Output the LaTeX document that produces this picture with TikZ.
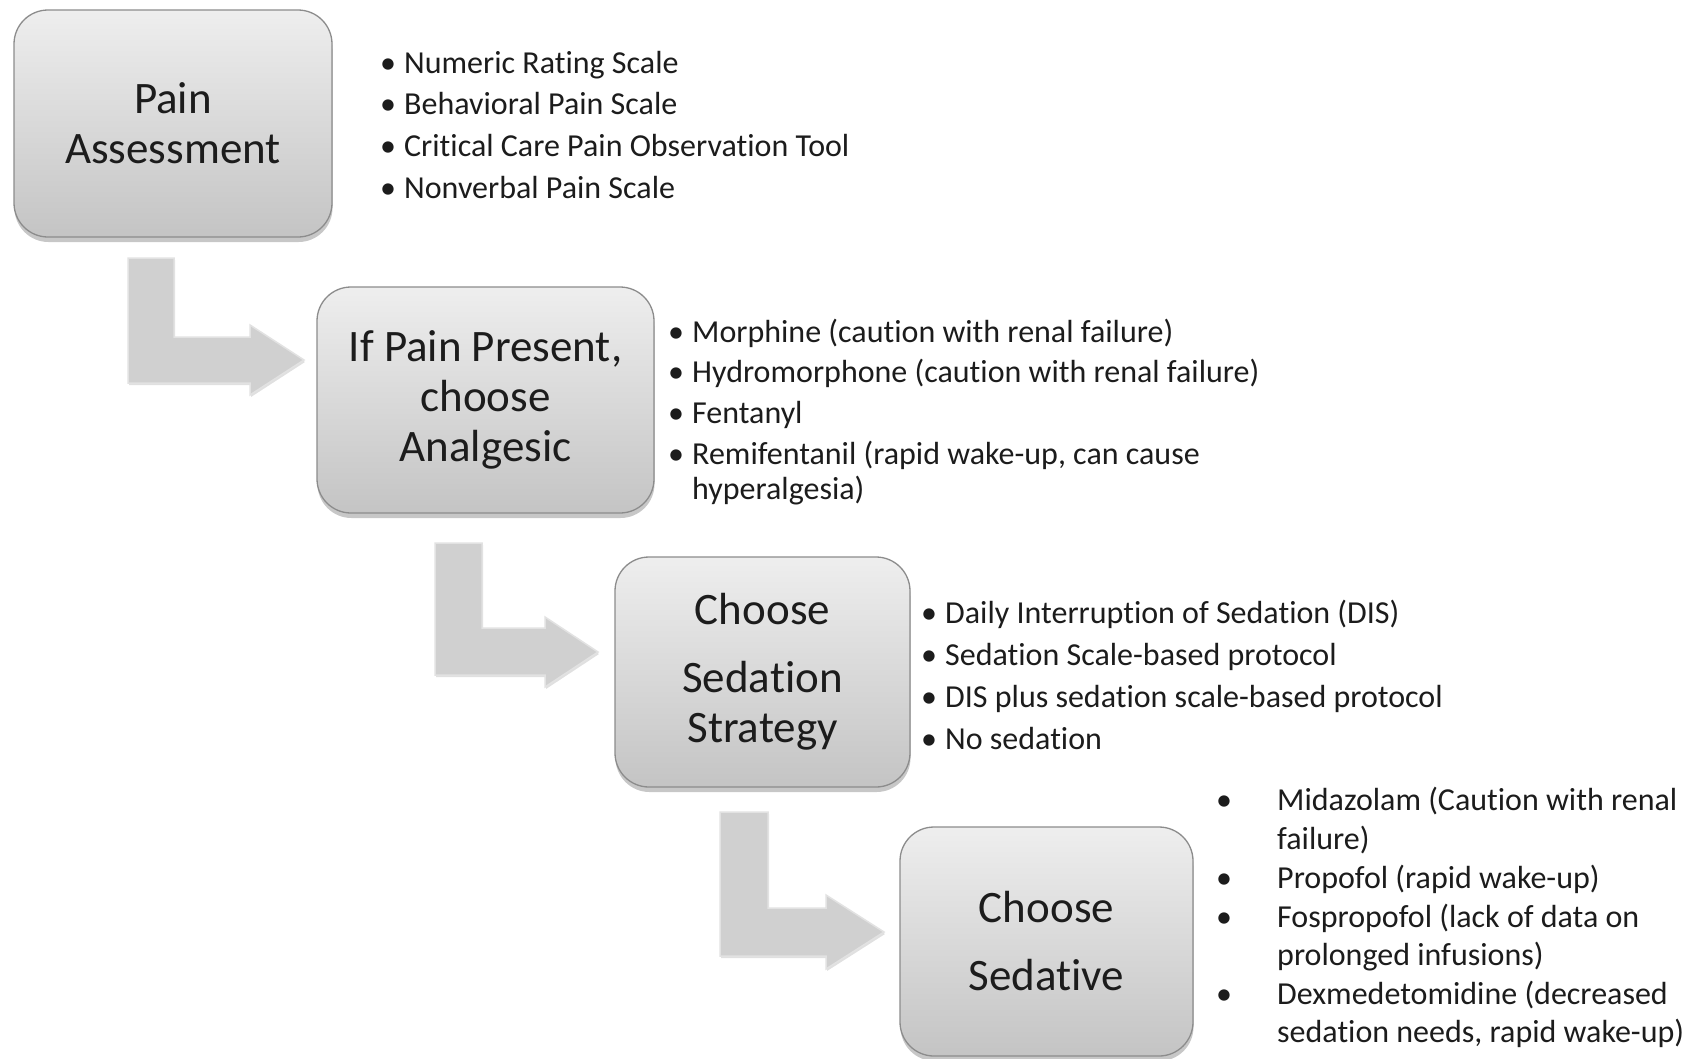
\documentclass[tikz,border=0pt]{standalone}
\usepackage{fontspec}
\setmainfont{Carlito}[RawFeature={-liga;-clig;-calt;-dlig}]
\usetikzlibrary{shadows}
\definecolor{boxtop}{RGB}{238,238,238}
\definecolor{boxbot}{RGB}{196,196,196}
\definecolor{boxline}{RGB}{140,140,140}
\definecolor{txt}{RGB}{28,28,28}
\definecolor{arrowfill}{RGB}{208,208,208}
\definecolor{arrowedge}{RGB}{226,226,226}
\tikzset{
  stepbox/.style={draw=boxline, line width=1.3pt, rounded corners=34pt,
    top color=boxtop, bottom color=boxbot, inner sep=0pt, align=center,
    text=txt, font=\fontsize{45}{50}\selectfont,
    drop shadow={shadow xshift=0.5pt, shadow yshift=-5pt, opacity=0.22, fill=black}},
  listtxt/.style={anchor=base west, inner sep=0pt, text=txt, font=\fontsize{32}{38}\selectfont},
  blockarrow/.style={fill=arrowfill, draw=arrowedge, line width=1.5pt,
    drop shadow={shadow xshift=1pt, shadow yshift=-2pt, opacity=0.12, fill=black}}
}
\newcommand{\bul}{\makebox[24pt][l]{•}}
\newcommand{\tiX}{t\kern0pt i}
\begin{document}
\begin{tikzpicture}[x=1pt,y=-1pt]
\useasboundingbox (0,0) rectangle (1702,1058);
\fill[white] (0,0) rectangle (1702,1058);

% block arrows
\path[blockarrow] (128,258) -- (174,258) -- (174,337) -- (250,337) -- (250,325) -- (304,360) -- (250,395) -- (250,383) -- (128,383) -- cycle;
\path[blockarrow] (435,543) -- (482,543) -- (482,628) -- (545,628) -- (545,617) -- (598,652) -- (545,687) -- (545,675) -- (435,675) -- cycle;
\path[blockarrow] (720,812) -- (768,812) -- (768,908) -- (826,908) -- (826,895) -- (884,932) -- (826,969) -- (826,956) -- (720,956) -- cycle;

% boxes
\node[stepbox, minimum width=318pt, minimum height=227pt] (b1) at (173,123.5) {Pain\\Assessment};
\node[stepbox, minimum width=337pt, minimum height=226pt] (b2) at (485.5,400) {If Pain Present,\\choose\\Analgesic};
\node[stepbox, minimum width=295pt, minimum height=230pt] (b3) at (762.5,672) {Choose\\[18pt]Seda\tiX on\\Strategy};
\node[stepbox, minimum width=293pt, minimum height=229pt] (b4) at (1046.5,941.5) {Choose\\[18pt]Sedative};

% list 1
\node[listtxt] (l1a) at (380,73) {\bul Numeric Rating Scale};
\node[listtxt] (l1b) at (380,114) {\bul Behavioral Pain Scale};
\node[listtxt] (l1c) at (380,156) {\bul Critical Care Pain Observa\tiX on Tool};
\node[listtxt] (l1d) at (380,198) {\bul Nonverbal Pain Scale};

% list 2
\node[listtxt] (l2a) at (668,342) {\bul Morphine (cau\tiX on with renal failure)};
\node[listtxt] (l2b) at (668,382) {\bul Hydromorphone (cau\tiX on with renal failure)};
\node[listtxt] (l2c) at (668,423) {\bul Fentanyl};
\node[listtxt] (l2d) at (668,464) {\bul Remifentanil (rapid wake-up, can cause};
\node[listtxt] (l2e) at (692,499) {hyperalgesia)};

% list 3
\node[listtxt] (l3a) at (921,623) {\bul Daily Interrup\tiX on of Seda\tiX on (DIS)};
\node[listtxt] (l3b) at (921,665) {\bul Seda\tiX on Scale-based protocol};
\node[listtxt] (l3c) at (921,707) {\bul DIS plus seda\tiX on scale-based protocol};
\node[listtxt] (l3d) at (921,749) {\bul No seda\tiX on};

% list 4
\node[listtxt] (l4a) at (1216,810) {•};
\node[listtxt] (l4at) at (1277,810) {Midazolam (Cau\tiX on with renal};
\node[listtxt] (l4at2) at (1277,849) {failure)};
\node[listtxt] (l4b) at (1216,888) {•};
\node[listtxt] (l4bt) at (1277,888) {Propofol (rapid wake-up)};
\node[listtxt] (l4c) at (1216,927) {•};
\node[listtxt] (l4ct) at (1277,927) {Fospropofol (lack of data on};
\node[listtxt] (l4ct2) at (1277,965) {prolonged infusions)};
\node[listtxt] (l4d) at (1216,1004) {•};
\node[listtxt] (l4dt) at (1277,1004) {Dexmedetomidine (decreased};
\node[listtxt] (l4dt2) at (1277,1042) {seda\tiX on needs, rapid wake-up)};
\end{tikzpicture}
\end{document}
